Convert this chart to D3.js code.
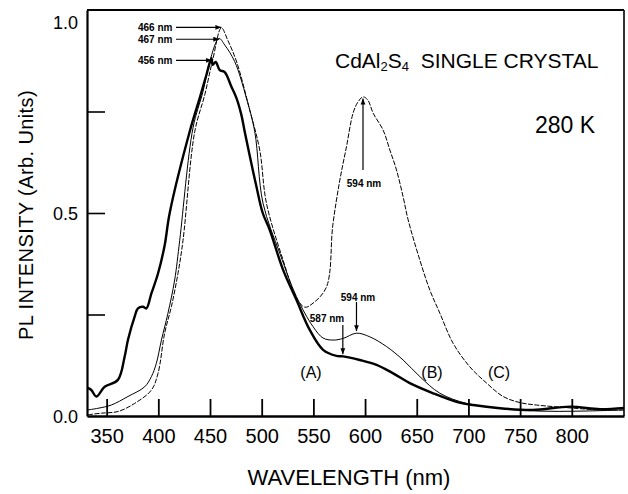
<!DOCTYPE html>
<html>
<head>
<meta charset="utf-8">
<script src="https://cdn.jsdelivr.net/npm/d3@7"></script>
<style>
  body { margin: 0; background: #fff; }
  svg { font-family: "Liberation Sans", Arial, sans-serif; }
  .note { font-size: 10px; font-weight: bold; }
</style>
</head>
<body>
<svg></svg>
<script>
var margin = { top: 10, bottom: 78, left: 87, right: 4 };
var width = 628 - margin.left - margin.right;
var height = 494 - margin.top - margin.bottom;

// curve (A): thick solid
const wlA = [331.6, 335.2, 340, 348.1, 360.9, 367.4, 370.6, 377.1, 380.3, 385.1, 388.4, 393.3, 399.7, 406.1, 411,
  430.3, 440, 446.5, 451.4, 452.6, 455.5, 459.4, 464.2, 470.7, 475.6, 480.4, 483.6, 494.9, 501, 507.8, 520.7,
  533.6, 546.5, 559.4, 572.4, 578.7, 594.9, 611.1, 627.2, 643.3, 665.9, 688.5, 704.6, 730.4, 762.4, 798.2, 827.3, 850.5];
const valA = [0.069, 0.064, 0.048, 0.072, 0.089, 0.146, 0.187, 0.245, 0.265, 0.269, 0.265, 0.302, 0.351, 0.420, 0.5,
  0.700, 0.783, 0.840, 0.881, 0.865, 0.872, 0.852, 0.847, 0.811, 0.783, 0.741, 0.700, 0.565, 0.500, 0.458, 0.360,
  0.286, 0.212, 0.163, 0.148, 0.147, 0.138, 0.126, 0.105, 0.081, 0.056, 0.035, 0.027, 0.019, 0.015, 0.023, 0.017, 0.020];

// curve (B): thin solid
const wlB = [331.9, 341.6, 354.5, 370.6, 386.8, 393.3, 398.1, 403, 409.3, 415.8, 420.7, 433.5, 443.2, 449.7, 458.7, 464.2,
  473.9, 485.2, 493.3, 501.3, 517.5, 533.6, 549.7, 559.4, 569.1, 578.7, 591.7, 604.6, 620.8, 636.8, 653, 672.4,
  698.2, 730.4, 769.2, 808, 850.5];
const valB = [0.015, 0.019, 0.027, 0.048, 0.072, 0.097, 0.130, 0.187, 0.253, 0.335, 0.433, 0.709, 0.799, 0.873, 0.930, 0.914,
  0.873, 0.783, 0.700, 0.524, 0.401, 0.294, 0.220, 0.192, 0.187, 0.191, 0.204, 0.195, 0.171, 0.138, 0.097, 0.056,
  0.031, 0.019, 0.012, 0.012, 0.015];

// curve (C): thin broken
const wlC = [331.9, 344.9, 360.9, 377.1, 393.3, 399.7, 406.1, 412.6, 419, 423.9, 435.2, 444.9, 452.6, 461, 467.1, 475.8,
  488.4, 498.1, 504.6, 520.7, 533.6, 541.7, 549.7, 562.7, 568.8, 575.6, 582, 588.4, 593, 598.1, 602.7, 607.8,
  617.5, 624, 630.4, 636.8, 641.7, 653, 662.7, 672.4, 685.2, 701.4, 717.6, 733.6, 749.8, 766, 798.2, 827.3, 850.5];
const valC = [0.003, 0.007, 0.011, 0.031, 0.064, 0.105, 0.204, 0.269, 0.351, 0.433, 0.700, 0.791, 0.877, 0.956, 0.926, 0.872,
  0.754, 0.655, 0.524, 0.384, 0.291, 0.268, 0.278, 0.318, 0.470, 0.581, 0.663, 0.746, 0.773, 0.786, 0.778, 0.746,
  0.704, 0.655, 0.606, 0.540, 0.483, 0.384, 0.310, 0.253, 0.179, 0.121, 0.081, 0.048, 0.033, 0.027, 0.020, 0.015, 0.015];

const xTicks = [350, 400, 450, 500, 550, 600, 650, 700, 750, 800];
const yTicks = [0, 0.25, 0.5, 0.75, 1.0];
const yLabels = { 0: "0.0", 0.5: "0.5", 1: "1.0" };

// peak notes: text, wavelength, intensity of the arrow tip
const peakNotes = [
  { text: "466 nm", wl: 461, v: 0.957 },
  { text: "467 nm", wl: 459, v: 0.928 },
  { text: "456 nm", wl: 452, v: 0.876 }
];

const svg = d3.select("svg")
    .attr("width", 628)
    .attr("height", 494);

svg.append("defs").append("marker")
    .attr("id", "head")
    .attr("viewBox", "0 0 10 10")
    .attr("refX", 10).attr("refY", 5)
    .attr("markerWidth", 6).attr("markerHeight", 6)
    .attr("markerUnits", "userSpaceOnUse")
    .attr("orient", "auto")
    .append("path")
    .attr("d", "M0,1 L10,5 L0,9 Z")
    .attr("fill", "#000");

const g = svg.append("g")
    .attr("transform", `translate(${margin.left},${margin.top})`);

const x = d3.scaleLinear().domain([331, 850.5]).range([0, width]);
const y = d3.scaleLinear().domain([0, 1]).range([height, 0]);

// axes with inward ticks
const xAxis = g.append("g")
    .attr("transform", `translate(0,${height})`)
    .call(d3.axisBottom(x).tickValues(xTicks).tickSizeInner(-17).tickSizeOuter(0).tickPadding(13));
xAxis.select(".domain").attr("stroke-width", 2.5);
xAxis.selectAll(".tick line").attr("stroke-width", 1.8);
xAxis.selectAll("text").attr("font-size", 20).attr("font-family", "Liberation Sans, Arial, sans-serif");

const yAxis = g.append("g")
    .call(d3.axisLeft(y).tickValues(yTicks).tickSizeInner(-18).tickSizeOuter(0).tickPadding(9)
        .tickFormat(d => yLabels[d] || ""));
yAxis.select(".domain").attr("stroke-width", 2.2);
yAxis.selectAll(".tick line").attr("stroke-width", 1.6)
    .attr("opacity", d => (d === 0 || d === 1) ? 0 : 1);
yAxis.selectAll("text").attr("font-size", 18).attr("font-family", "Liberation Sans, Arial, sans-serif")
    .attr("dy", d => d === 1 ? "1.0em" : "0.35em");

// top and right frame
g.append("line").attr("x1", 0).attr("x2", width).attr("y1", 0).attr("y2", 0)
    .attr("stroke", "#000").attr("stroke-width", 1.8);
g.append("line").attr("x1", width).attr("x2", width).attr("y1", 0).attr("y2", height)
    .attr("stroke", "#000").attr("stroke-width", 1.6);

const line = d3.line()
    .x(d => x(d[0]))
    .y(d => y(d[1]))
    .curve(d3.curveCatmullRom);

const curves = [
  { wl: wlC, v: valC, w: 1, dash: "5,1.5" },
  { wl: wlB, v: valB, w: 1, dash: null },
  { wl: wlA, v: valA, w: 2.4, dash: null }
];

curves.forEach(c => {
    g.append("path")
        .datum(d3.zip(c.wl, c.v))
        .attr("fill", "none")
        .attr("stroke", "#000")
        .attr("stroke-width", c.w)
        .attr("stroke-dasharray", c.dash)
        .attr("d", line);
});

// peak notes with horizontal arrows
peakNotes.forEach(n => {
    const ty = y(n.v);
    g.append("text").attr("class", "note")
        .attr("x", 138 - margin.left).attr("y", ty + 3.5)
        .text(n.text);
    g.append("line")
        .attr("x1", 176 - margin.left).attr("y1", ty)
        .attr("x2", x(n.wl)).attr("y2", ty)
        .attr("stroke", "#000").attr("stroke-width", 1.2)
        .attr("marker-end", "url(#head)");
});

// vertical arrows
function vArrow(wl, v, fromY, label, lx, ly) {
    g.append("line")
        .attr("x1", x(wl)).attr("x2", x(wl))
        .attr("y1", fromY - margin.top).attr("y2", y(v))
        .attr("stroke", "#000").attr("stroke-width", 1.2)
        .attr("marker-end", "url(#head)");
    g.append("text").attr("class", "note")
        .attr("x", lx - margin.left).attr("y", ly - margin.top)
        .attr("text-anchor", "middle")
        .text(label);
}
vArrow(598, 0.782, 170, "594 nm", 364, 187);
vArrow(591.7, 0.209, 302, "594 nm", 358, 301);
vArrow(578.5, 0.152, 325, "587 nm", 327, 322);

// curve labels
[["(A)", 311], ["(B)", 432], ["(C)", 499]].forEach(d => {
    svg.append("text").attr("x", d[1]).attr("y", 378)
        .attr("text-anchor", "middle").attr("font-size", 16).text(d[0]);
});

// titles
const title = svg.append("text").attr("x", 335).attr("y", 68).attr("font-size", 21);
title.append("tspan").text("CdAl");
title.append("tspan").attr("font-size", 13).attr("dy", 3).text("2");
title.append("tspan").attr("dy", -3).text("S");
title.append("tspan").attr("font-size", 13).attr("dy", 3).text("4");
title.append("tspan").attr("dy", -3).text("\u00a0 SINGLE CRYSTAL");

svg.append("text").attr("x", 535).attr("y", 133).attr("font-size", 23).text("280 K");

svg.append("text")
    .attr("transform", "translate(33,215) rotate(-90)")
    .attr("text-anchor", "middle")
    .attr("font-size", 20)
    .attr("letter-spacing", 0.4)
    .text("PL  INTENSITY  (Arb. Units)");

svg.append("text")
    .attr("x", 349).attr("y", 485)
    .attr("text-anchor", "middle")
    .attr("font-size", 22)
    .text("WAVELENGTH (nm)");
</script>
</body>
</html>
